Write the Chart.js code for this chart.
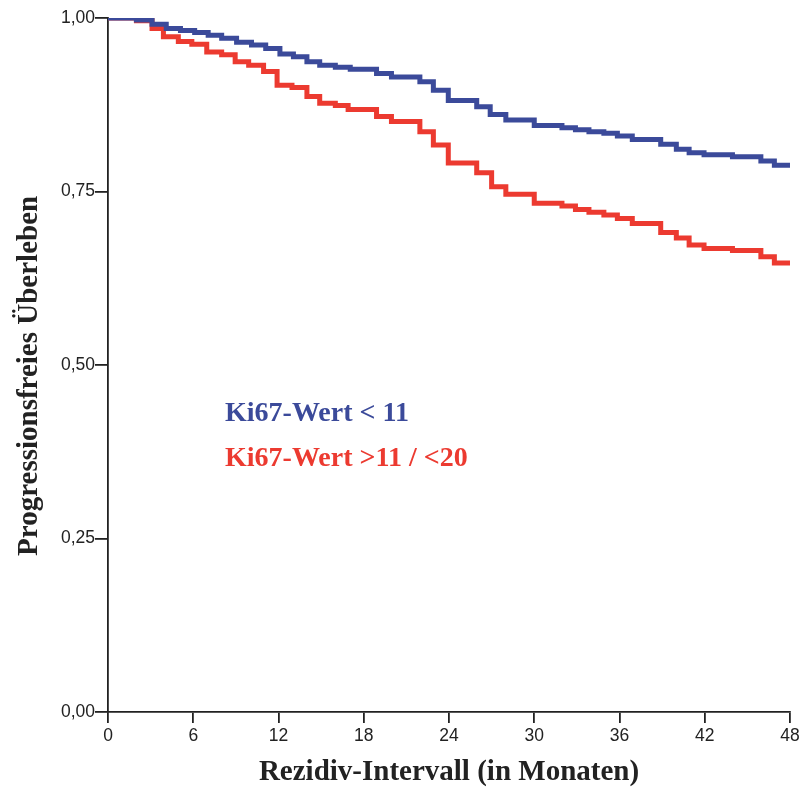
<!DOCTYPE html>
<html>
<head>
<meta charset="utf-8">
<script src="https://cdn.jsdelivr.net/npm/chart.js@4/dist/chart.umd.min.js"></script>
<style>
  html, body { margin: 0; padding: 0; background: #fff; }
  #wrap { width: 799px; height: 787px; }
</style>
</head>
<body>
<div id="wrap"><canvas id="km"></canvas></div>
<script>
// Kaplan-Meier step points: month at which the step happens, survival after it
const lowMonths = [0, 2.0, 3.1, 4.1, 5.1, 6.1, 7.05, 8.0, 9.05, 10.1, 11.1, 12.1, 13.05, 14.0, 14.9, 16.0, 17.05, 18.9, 19.95, 21.95, 22.9, 23.95, 25.95, 26.9, 28.0, 30.0, 31.95, 32.9, 33.85, 34.9, 35.85, 36.9, 38.9, 40.0, 40.9, 41.95, 43.95, 45.95, 46.9, 48];
const lowSurv = [1.0, 0.997, 0.991, 0.985, 0.982, 0.979, 0.975, 0.971, 0.965, 0.961, 0.956, 0.948, 0.944, 0.937, 0.932, 0.929, 0.926, 0.920, 0.915, 0.908, 0.896, 0.881, 0.872, 0.861, 0.853, 0.845, 0.842, 0.839, 0.836, 0.834, 0.830, 0.825, 0.818, 0.811, 0.806, 0.803, 0.800, 0.794, 0.788, 0.788];

const midMonths = [0, 2.0, 3.1, 3.9, 4.95, 5.9, 6.95, 8.0, 8.95, 9.9, 10.95, 11.9, 12.95, 14.0, 14.9, 16.0, 16.9, 18.9, 19.95, 21.95, 22.9, 23.95, 25.95, 27.0, 28.0, 30.0, 31.95, 32.9, 33.85, 34.9, 35.85, 36.9, 38.9, 40.0, 40.9, 41.95, 43.95, 45.95, 46.9, 48];
const midSurv = [1.0, 0.996, 0.985, 0.973, 0.966, 0.962, 0.951, 0.947, 0.937, 0.932, 0.923, 0.903, 0.900, 0.887, 0.877, 0.874, 0.868, 0.858, 0.851, 0.836, 0.817, 0.791, 0.777, 0.757, 0.746, 0.733, 0.729, 0.724, 0.720, 0.716, 0.711, 0.704, 0.691, 0.683, 0.673, 0.668, 0.665, 0.656, 0.647, 0.647];

const groupLabels = ["Ki67-Wert < 11", "Ki67-Wert >11 / <20"];
const groupColors = ["#3b4a9a", "#ec3a30"];
const xTicks = [0, 6, 12, 18, 24, 30, 36, 42, 48];
const yTicks = [0, 0.25, 0.5, 0.75, 1];

const toPoints = (xs, ys) => xs.map((x, i) => ({ x: x, y: ys[i] }));

// group names written inside the plot instead of a legend box
const groupText = {
  id: "groupText",
  afterDatasetsDraw(chart) {
    const ctx = chart.ctx;
    ctx.save();
    ctx.font = "bold 28px 'Liberation Serif', 'Times New Roman', serif";
    ctx.textBaseline = "alphabetic";
    ctx.fillStyle = groupColors[0];
    ctx.fillText(groupLabels[0], 225, 421);
    ctx.fillStyle = groupColors[1];
    ctx.fillText(groupLabels[1], 225, 466);
    ctx.restore();
  },
};

const axisFont = { family: "'Liberation Sans', Arial, sans-serif", size: 17.5 };
const titleFont = { family: "'Liberation Serif', 'Times New Roman', serif", size: 29, weight: "bold", lineHeight: 1 };

new Chart(document.getElementById("km"), {
  type: "line",
  data: {
    datasets: [
      {
        label: groupLabels[0],
        data: toPoints(lowMonths, lowSurv),
        borderColor: groupColors[0],
        borderWidth: 5,
        stepped: true,
        pointRadius: 0,
        fill: false,
      },
      {
        label: groupLabels[1],
        data: toPoints(midMonths, midSurv),
        borderColor: groupColors[1],
        borderWidth: 5,
        stepped: true,
        pointRadius: 0,
        fill: false,
      },
    ],
  },
  options: {
    responsive: true,
    maintainAspectRatio: false,
    animation: false,
    layout: { padding: { top: 18, right: 9, bottom: 0, left: 0 } },
    plugins: { legend: { display: false }, tooltip: { enabled: false } },
    scales: {
      x: {
        type: "linear",
        min: 0,
        max: 48,
        afterBuildTicks: (s) => { s.ticks = xTicks.map((v) => ({ value: v })); },
        afterFit: (s) => { s.height = 75; s.paddingRight = 0; },
        ticks: { color: "#222", font: axisFont, padding: 3, maxRotation: 0 },
        grid: { display: true, drawOnChartArea: false, drawTicks: true, tickLength: 11, color: "#222", lineWidth: 1.8 },
        border: { display: true, color: "#222", width: 1.8 },
        title: { display: true, text: "Rezidiv-Intervall (in Monaten)", color: "#222", font: titleFont, padding: { top: 4, bottom: 0 } },
      },
      y: {
        type: "linear",
        min: 0,
        max: 1,
        afterBuildTicks: (s) => { s.ticks = yTicks.map((v) => ({ value: v })); },
        afterFit: (s) => { s.width = 108; },
        ticks: {
          color: "#222",
          font: axisFont,
          padding: 0,
          callback: (v) => v.toFixed(2).replace(".", ","),
        },
        grid: { display: true, drawOnChartArea: false, drawTicks: true, tickLength: 13, color: "#222", lineWidth: 1.8 },
        border: { display: true, color: "#222", width: 1.8 },
        title: { display: true, text: "Progressionsfreies Überleben\u00a0\u00a0\u00a0", color: "#222", font: titleFont, padding: { top: 15, bottom: 0 } },
      },
    },
  },
  plugins: [groupText],
});
</script>
</body>
</html>
